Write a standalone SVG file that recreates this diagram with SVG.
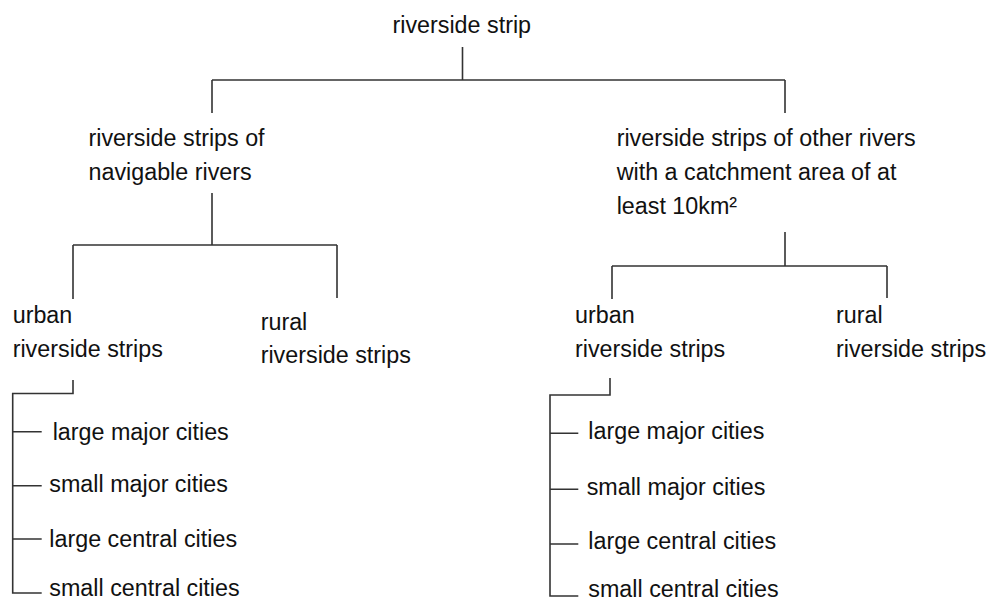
<svg xmlns="http://www.w3.org/2000/svg" width="989" height="602" viewBox="0 0 989 602">
  <style>
    text { font-family: "Liberation Sans", Arial, sans-serif; font-size: 23.3px; fill: #111; }
    .edge { fill: none; stroke: #333; stroke-width: 1.6; }
  </style>
  <rect width="989" height="602" fill="#fff"/>

  <g id="connectors">
    <!-- root to first level -->
    <path class="edge" d="M462.5,47 V80 M212,80 H785 M212,80 V113 M785,80 V113"/>
    <!-- navigable rivers branch -->
    <path class="edge" d="M212,193 V245 M73,245 H337 M73,245 V299 M337,245 V298"/>
    <!-- other rivers branch -->
    <path class="edge" d="M785,232 V266 M612,266 H887 M612,266 V299 M887,266 V298"/>
    <!-- urban (navigable) city list -->
    <path class="edge" d="M73,380 V393.5 H12.7 V593 H41.7 M12.7,431.7 H41.7 M12.7,485.7 H41.7 M12.7,539 H41.7"/>
    <!-- urban (other rivers) city list -->
    <path class="edge" d="M610,378 V395 H550 V596 H578.3 M550,433.3 H578.3 M550,489.3 H578.3 M550,544 H578.3"/>
  </g>

  <g id="root"><text x="392.5" y="33">riverside strip</text></g>

  <g id="navigable">
    <text x="88.5" y="145.5">riverside strips of</text>
    <text x="88.5" y="180">navigable rivers</text>
  </g>

  <g id="other-rivers">
    <text x="616.7" y="145.5">riverside strips of other rivers</text>
    <text x="616.7" y="180">with a catchment area of at</text>
    <text x="616.7" y="214.3">least 10km²</text>
  </g>

  <g id="urban-navigable">
    <text x="12.7" y="322.7">urban</text>
    <text x="12.7" y="356.7">riverside strips</text>
  </g>

  <g id="rural-navigable">
    <text x="260.7" y="330">rural</text>
    <text x="260.7" y="363.3">riverside strips</text>
  </g>

  <g id="urban-other">
    <text x="575" y="322.7">urban</text>
    <text x="575" y="356.7">riverside strips</text>
  </g>

  <g id="rural-other">
    <text x="836" y="322.7">rural</text>
    <text x="836" y="356.7">riverside strips</text>
  </g>

  <g id="cities-navigable">
    <text x="52.7" y="440">large major cities</text>
    <text x="49.3" y="491.7">small major cities</text>
    <text x="49.3" y="546.7">large central cities</text>
    <text x="49.3" y="596">small central cities</text>
  </g>

  <g id="cities-other">
    <text x="588.3" y="439.3">large major cities</text>
    <text x="586.7" y="495">small major cities</text>
    <text x="588.3" y="549.3">large central cities</text>
    <text x="588.3" y="596.5">small central cities</text>
  </g>
</svg>
